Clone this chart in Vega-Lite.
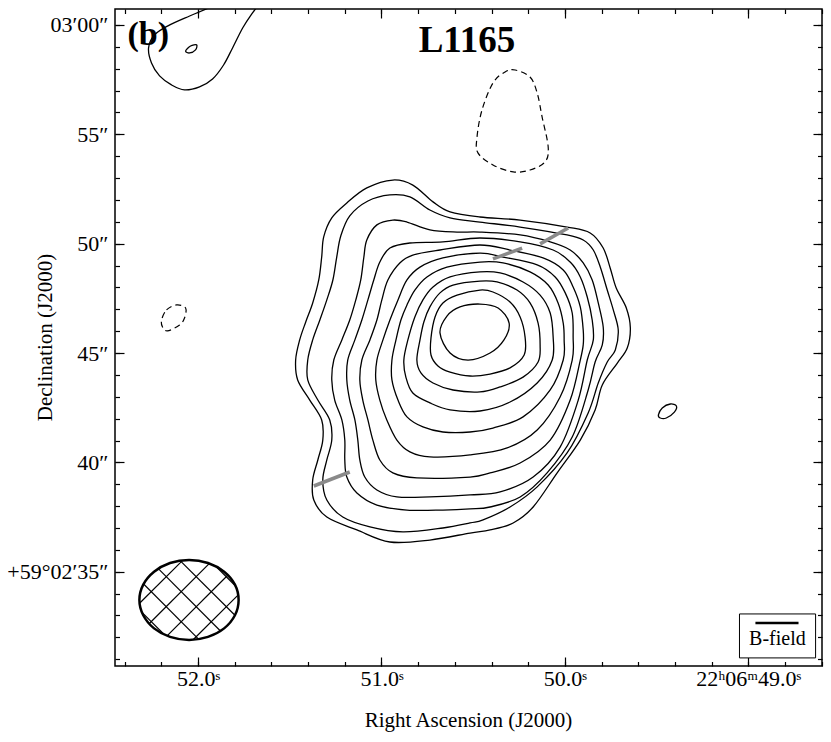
{
"$schema": "https://vega.github.io/schema/vega-lite/v6.json",
"width": 707, "height": 657,
"autosize": "none",
"padding": {"left": 115, "top": 9, "right": 9, "bottom": 76},
"background": "white",
"config": {
 "view": {"stroke": "black", "strokeWidth": 1.5},
 "axis": {"grid": false, "domain": false, "labelFont": "Liberation Serif", "labelFontSize": 22, "labelColor": "black", "titleFont": "Liberation Serif", "titleFontSize": 21, "titleFontWeight": "normal", "titleColor": "black", "tickColor": "black", "tickWidth": 1.2, "labelFlush": false, "labelOverlap": false, "labelBound": false}
},
"datasets": {
 "contours": [
  {"c":"C1","i":0,"ra":50.938,"dec":52.91},{"c":"C1","i":1,"ra":50.829,"dec":52.68},{"c":"C1","i":2,"ra":50.719,"dec":51.91},{"c":"C1","i":3,"ra":50.626,"dec":51.45},{"c":"C1","i":4,"ra":50.463,"dec":51.22},{"c":"C1","i":5,"ra":50.244,"dec":51.08},{"c":"C1","i":6,"ra":49.988,"dec":50.76},{"c":"C1","i":7,"ra":49.862,"dec":50.49},{"c":"C1","i":8,"ra":49.791,"dec":49.80},{"c":"C1","i":9,"ra":49.753,"dec":48.89},{"c":"C1","i":10,"ra":49.720,"dec":47.97},{"c":"C1","i":11,"ra":49.665,"dec":47.06},{"c":"C1","i":12,"ra":49.643,"dec":46.15},{"c":"C1","i":13,"ra":49.660,"dec":45.23},{"c":"C1","i":14,"ra":49.714,"dec":44.54},{"c":"C1","i":15,"ra":49.796,"dec":43.54},{"c":"C1","i":16,"ra":49.835,"dec":42.40},{"c":"C1","i":17,"ra":49.916,"dec":41.02},{"c":"C1","i":18,"ra":50.042,"dec":39.52},{"c":"C1","i":19,"ra":50.173,"dec":37.96},{"c":"C1","i":20,"ra":50.282,"dec":37.23},{"c":"C1","i":21,"ra":50.408,"dec":36.91},{"c":"C1","i":22,"ra":50.517,"dec":36.77},{"c":"C1","i":23,"ra":50.736,"dec":36.45},{"c":"C1","i":24,"ra":50.954,"dec":36.36},{"c":"C1","i":25,"ra":51.134,"dec":36.91},{"c":"C1","i":26,"ra":51.298,"dec":37.50},{"c":"C1","i":27,"ra":51.369,"dec":38.28},{"c":"C1","i":28,"ra":51.375,"dec":39.20},{"c":"C1","i":29,"ra":51.347,"dec":40.11},{"c":"C1","i":30,"ra":51.320,"dec":41.02},{"c":"C1","i":31,"ra":51.326,"dec":41.94},{"c":"C1","i":32,"ra":51.391,"dec":42.85},{"c":"C1","i":33,"ra":51.457,"dec":43.77},{"c":"C1","i":34,"ra":51.468,"dec":44.68},{"c":"C1","i":35,"ra":51.446,"dec":45.60},{"c":"C1","i":36,"ra":51.413,"dec":46.42},{"c":"C1","i":37,"ra":51.375,"dec":47.29},{"c":"C1","i":38,"ra":51.342,"dec":48.34},{"c":"C1","i":39,"ra":51.326,"dec":49.39},{"c":"C1","i":40,"ra":51.315,"dec":50.31},{"c":"C1","i":41,"ra":51.271,"dec":51.18},{"c":"C1","i":42,"ra":51.189,"dec":51.86},{"c":"C1","i":43,"ra":51.080,"dec":52.55},
  {"c":"C2","i":0,"ra":50.954,"dec":52.23},{"c":"C2","i":1,"ra":50.845,"dec":52.14},{"c":"C2","i":2,"ra":50.736,"dec":51.54},{"c":"C2","i":3,"ra":50.626,"dec":51.18},{"c":"C2","i":4,"ra":50.463,"dec":50.99},{"c":"C2","i":5,"ra":50.244,"dec":50.76},{"c":"C2","i":6,"ra":49.988,"dec":50.40},{"c":"C2","i":7,"ra":49.900,"dec":50.17},{"c":"C2","i":8,"ra":49.845,"dec":49.71},{"c":"C2","i":9,"ra":49.807,"dec":48.93},{"c":"C2","i":10,"ra":49.769,"dec":47.88},{"c":"C2","i":11,"ra":49.736,"dec":46.97},{"c":"C2","i":12,"ra":49.709,"dec":46.05},{"c":"C2","i":13,"ra":49.725,"dec":45.14},{"c":"C2","i":14,"ra":49.769,"dec":44.59},{"c":"C2","i":15,"ra":49.818,"dec":43.63},{"c":"C2","i":16,"ra":49.873,"dec":42.26},{"c":"C2","i":17,"ra":49.988,"dec":40.43},{"c":"C2","i":18,"ra":50.151,"dec":38.88},{"c":"C2","i":19,"ra":50.299,"dec":37.96},{"c":"C2","i":20,"ra":50.446,"dec":37.37},{"c":"C2","i":21,"ra":50.517,"dec":37.23},{"c":"C2","i":22,"ra":50.665,"dec":37.00},{"c":"C2","i":23,"ra":50.883,"dec":36.82},{"c":"C2","i":24,"ra":51.063,"dec":37.05},{"c":"C2","i":25,"ra":51.211,"dec":37.50},{"c":"C2","i":26,"ra":51.298,"dec":38.28},{"c":"C2","i":27,"ra":51.320,"dec":39.20},{"c":"C2","i":28,"ra":51.298,"dec":40.11},{"c":"C2","i":29,"ra":51.271,"dec":41.02},{"c":"C2","i":30,"ra":51.282,"dec":41.94},{"c":"C2","i":31,"ra":51.347,"dec":42.85},{"c":"C2","i":32,"ra":51.402,"dec":43.77},{"c":"C2","i":33,"ra":51.402,"dec":44.68},{"c":"C2","i":34,"ra":51.375,"dec":45.60},{"c":"C2","i":35,"ra":51.336,"dec":46.51},{"c":"C2","i":36,"ra":51.298,"dec":47.43},{"c":"C2","i":37,"ra":51.265,"dec":48.34},{"c":"C2","i":38,"ra":51.244,"dec":49.39},{"c":"C2","i":39,"ra":51.222,"dec":50.35},{"c":"C2","i":40,"ra":51.173,"dec":51.27},{"c":"C2","i":41,"ra":51.074,"dec":51.95},
  {"c":"C3","i":0,"ra":50.938,"dec":51.08},{"c":"C3","i":1,"ra":50.861,"dec":50.99},{"c":"C3","i":2,"ra":50.736,"dec":50.63},{"c":"C3","i":3,"ra":50.588,"dec":50.53},{"c":"C3","i":4,"ra":50.463,"dec":50.53},{"c":"C3","i":5,"ra":50.244,"dec":50.40},{"c":"C3","i":6,"ra":50.080,"dec":50.08},{"c":"C3","i":7,"ra":49.971,"dec":49.71},{"c":"C3","i":8,"ra":49.900,"dec":49.12},{"c":"C3","i":9,"ra":49.851,"dec":48.34},{"c":"C3","i":10,"ra":49.818,"dec":47.29},{"c":"C3","i":11,"ra":49.791,"dec":46.19},{"c":"C3","i":12,"ra":49.796,"dec":45.37},{"c":"C3","i":13,"ra":49.835,"dec":44.59},{"c":"C3","i":14,"ra":49.873,"dec":43.31},{"c":"C3","i":15,"ra":49.960,"dec":41.16},{"c":"C3","i":16,"ra":50.097,"dec":39.52},{"c":"C3","i":17,"ra":50.244,"dec":38.42},{"c":"C3","i":18,"ra":50.408,"dec":37.96},{"c":"C3","i":19,"ra":50.517,"dec":37.87},{"c":"C3","i":20,"ra":50.665,"dec":37.82},{"c":"C3","i":21,"ra":50.861,"dec":37.82},{"c":"C3","i":22,"ra":51.025,"dec":38.05},{"c":"C3","i":23,"ra":51.134,"dec":38.60},{"c":"C3","i":24,"ra":51.189,"dec":39.33},{"c":"C3","i":25,"ra":51.200,"dec":40.11},{"c":"C3","i":26,"ra":51.200,"dec":41.02},{"c":"C3","i":27,"ra":51.216,"dec":41.94},{"c":"C3","i":28,"ra":51.255,"dec":42.85},{"c":"C3","i":29,"ra":51.271,"dec":43.77},{"c":"C3","i":30,"ra":51.260,"dec":44.68},{"c":"C3","i":31,"ra":51.216,"dec":45.60},{"c":"C3","i":32,"ra":51.173,"dec":46.51},{"c":"C3","i":33,"ra":51.140,"dec":47.43},{"c":"C3","i":34,"ra":51.113,"dec":48.34},{"c":"C3","i":35,"ra":51.096,"dec":49.39},{"c":"C3","i":36,"ra":51.080,"dec":50.17},{"c":"C3","i":37,"ra":51.025,"dec":50.86},
  {"c":"C4","i":0,"ra":50.954,"dec":49.80},{"c":"C4","i":1,"ra":50.845,"dec":50.03},{"c":"C4","i":2,"ra":50.665,"dec":50.08},{"c":"C4","i":3,"ra":50.463,"dec":50.26},{"c":"C4","i":4,"ra":50.244,"dec":50.08},{"c":"C4","i":5,"ra":50.064,"dec":49.71},{"c":"C4","i":6,"ra":49.971,"dec":49.16},{"c":"C4","i":7,"ra":49.916,"dec":48.48},{"c":"C4","i":8,"ra":49.878,"dec":47.56},{"c":"C4","i":9,"ra":49.851,"dec":46.51},{"c":"C4","i":10,"ra":49.845,"dec":45.60},{"c":"C4","i":11,"ra":49.878,"dec":44.68},{"c":"C4","i":12,"ra":49.927,"dec":42.85},{"c":"C4","i":13,"ra":50.026,"dec":40.70},{"c":"C4","i":14,"ra":50.173,"dec":39.33},{"c":"C4","i":15,"ra":50.353,"dec":38.65},{"c":"C4","i":16,"ra":50.517,"dec":38.51},{"c":"C4","i":17,"ra":50.736,"dec":38.42},{"c":"C4","i":18,"ra":50.916,"dec":38.42},{"c":"C4","i":19,"ra":51.025,"dec":38.74},{"c":"C4","i":20,"ra":51.091,"dec":39.33},{"c":"C4","i":21,"ra":51.118,"dec":40.11},{"c":"C4","i":22,"ra":51.129,"dec":41.02},{"c":"C4","i":23,"ra":51.145,"dec":41.94},{"c":"C4","i":24,"ra":51.173,"dec":42.85},{"c":"C4","i":25,"ra":51.189,"dec":43.77},{"c":"C4","i":26,"ra":51.184,"dec":44.68},{"c":"C4","i":27,"ra":51.145,"dec":45.60},{"c":"C4","i":28,"ra":51.107,"dec":46.51},{"c":"C4","i":29,"ra":51.074,"dec":47.43},{"c":"C4","i":30,"ra":51.042,"dec":48.34},{"c":"C4","i":31,"ra":51.009,"dec":49.16},
  {"c":"C5","i":0,"ra":50.900,"dec":49.12},{"c":"C5","i":1,"ra":50.829,"dec":49.48},{"c":"C5","i":2,"ra":50.681,"dec":49.71},{"c":"C5","i":3,"ra":50.463,"dec":49.94},{"c":"C5","i":4,"ra":50.299,"dec":49.71},{"c":"C5","i":5,"ra":50.119,"dec":49.35},{"c":"C5","i":6,"ra":50.009,"dec":48.80},{"c":"C5","i":7,"ra":49.955,"dec":48.02},{"c":"C5","i":8,"ra":49.916,"dec":47.11},{"c":"C5","i":9,"ra":49.900,"dec":46.05},{"c":"C5","i":10,"ra":49.900,"dec":45.37},{"c":"C5","i":11,"ra":49.916,"dec":44.68},{"c":"C5","i":12,"ra":49.971,"dec":42.85},{"c":"C5","i":13,"ra":50.080,"dec":41.02},{"c":"C5","i":14,"ra":50.244,"dec":39.97},{"c":"C5","i":15,"ra":50.408,"dec":39.52},{"c":"C5","i":16,"ra":50.517,"dec":39.33},{"c":"C5","i":17,"ra":50.807,"dec":39.29},{"c":"C5","i":18,"ra":50.938,"dec":39.52},{"c":"C5","i":19,"ra":51.009,"dec":40.11},{"c":"C5","i":20,"ra":51.047,"dec":41.02},{"c":"C5","i":21,"ra":51.074,"dec":41.94},{"c":"C5","i":22,"ra":51.102,"dec":42.85},{"c":"C5","i":23,"ra":51.118,"dec":43.77},{"c":"C5","i":24,"ra":51.107,"dec":44.68},{"c":"C5","i":25,"ra":51.063,"dec":45.60},{"c":"C5","i":26,"ra":51.025,"dec":46.51},{"c":"C5","i":27,"ra":50.998,"dec":47.43},{"c":"C5","i":28,"ra":50.965,"dec":48.34},
  {"c":"C6","i":0,"ra":50.861,"dec":48.34},{"c":"C6","i":1,"ra":50.790,"dec":48.93},{"c":"C6","i":2,"ra":50.665,"dec":49.35},{"c":"C6","i":3,"ra":50.463,"dec":49.57},{"c":"C6","i":4,"ra":50.337,"dec":49.39},{"c":"C6","i":5,"ra":50.151,"dec":49.03},{"c":"C6","i":6,"ra":50.053,"dec":48.48},{"c":"C6","i":7,"ra":49.998,"dec":47.75},{"c":"C6","i":8,"ra":49.960,"dec":46.83},{"c":"C6","i":9,"ra":49.955,"dec":45.73},{"c":"C6","i":10,"ra":49.960,"dec":44.68},{"c":"C6","i":11,"ra":50.026,"dec":42.99},{"c":"C6","i":12,"ra":50.151,"dec":41.48},{"c":"C6","i":13,"ra":50.315,"dec":40.66},{"c":"C6","i":14,"ra":50.517,"dec":40.34},{"c":"C6","i":15,"ra":50.736,"dec":40.25},{"c":"C6","i":16,"ra":50.845,"dec":40.48},{"c":"C6","i":17,"ra":50.916,"dec":41.02},{"c":"C6","i":18,"ra":50.971,"dec":41.94},{"c":"C6","i":19,"ra":51.009,"dec":42.85},{"c":"C6","i":20,"ra":51.031,"dec":43.77},{"c":"C6","i":21,"ra":51.025,"dec":44.68},{"c":"C6","i":22,"ra":50.992,"dec":45.60},{"c":"C6","i":23,"ra":50.954,"dec":46.51},{"c":"C6","i":24,"ra":50.910,"dec":47.43},
  {"c":"C7","i":0,"ra":50.818,"dec":47.88},{"c":"C7","i":1,"ra":50.752,"dec":48.48},{"c":"C7","i":2,"ra":50.643,"dec":48.93},{"c":"C7","i":3,"ra":50.463,"dec":49.16},{"c":"C7","i":4,"ra":50.337,"dec":49.12},{"c":"C7","i":5,"ra":50.190,"dec":48.71},{"c":"C7","i":6,"ra":50.091,"dec":48.11},{"c":"C7","i":7,"ra":50.037,"dec":47.29},{"c":"C7","i":8,"ra":50.009,"dec":46.37},{"c":"C7","i":9,"ra":50.004,"dec":45.60},{"c":"C7","i":10,"ra":50.009,"dec":44.68},{"c":"C7","i":11,"ra":50.080,"dec":43.31},{"c":"C7","i":12,"ra":50.228,"dec":42.08},{"c":"C7","i":13,"ra":50.392,"dec":41.57},{"c":"C7","i":14,"ra":50.517,"dec":41.39},{"c":"C7","i":15,"ra":50.665,"dec":41.39},{"c":"C7","i":16,"ra":50.774,"dec":41.62},{"c":"C7","i":17,"ra":50.861,"dec":42.08},{"c":"C7","i":18,"ra":50.910,"dec":42.85},{"c":"C7","i":19,"ra":50.943,"dec":43.77},{"c":"C7","i":20,"ra":50.943,"dec":44.68},{"c":"C7","i":21,"ra":50.921,"dec":45.60},{"c":"C7","i":22,"ra":50.894,"dec":46.51},{"c":"C7","i":23,"ra":50.861,"dec":47.20},
  {"c":"C8","i":0,"ra":50.774,"dec":47.43},{"c":"C8","i":1,"ra":50.719,"dec":48.02},{"c":"C8","i":2,"ra":50.626,"dec":48.48},{"c":"C8","i":3,"ra":50.463,"dec":48.71},{"c":"C8","i":4,"ra":50.353,"dec":48.66},{"c":"C8","i":5,"ra":50.228,"dec":48.25},{"c":"C8","i":6,"ra":50.135,"dec":47.65},{"c":"C8","i":7,"ra":50.080,"dec":46.83},{"c":"C8","i":8,"ra":50.064,"dec":45.73},{"c":"C8","i":9,"ra":50.069,"dec":44.68},{"c":"C8","i":10,"ra":50.151,"dec":43.63},{"c":"C8","i":11,"ra":50.299,"dec":42.76},{"c":"C8","i":12,"ra":50.463,"dec":42.35},{"c":"C8","i":13,"ra":50.626,"dec":42.40},{"c":"C8","i":14,"ra":50.736,"dec":42.72},{"c":"C8","i":15,"ra":50.829,"dec":43.17},{"c":"C8","i":16,"ra":50.867,"dec":43.90},{"c":"C8","i":17,"ra":50.878,"dec":44.68},{"c":"C8","i":18,"ra":50.856,"dec":45.60},{"c":"C8","i":19,"ra":50.818,"dec":46.65},
  {"c":"C9","i":0,"ra":50.736,"dec":47.11},{"c":"C9","i":1,"ra":50.681,"dec":47.75},{"c":"C9","i":2,"ra":50.610,"dec":48.11},{"c":"C9","i":3,"ra":50.463,"dec":48.29},{"c":"C9","i":4,"ra":50.370,"dec":48.25},{"c":"C9","i":5,"ra":50.261,"dec":47.88},{"c":"C9","i":6,"ra":50.190,"dec":47.29},{"c":"C9","i":7,"ra":50.146,"dec":46.37},{"c":"C9","i":8,"ra":50.135,"dec":45.37},{"c":"C9","i":9,"ra":50.146,"dec":44.59},{"c":"C9","i":10,"ra":50.228,"dec":43.90},{"c":"C9","i":11,"ra":50.353,"dec":43.45},{"c":"C9","i":12,"ra":50.463,"dec":43.22},{"c":"C9","i":13,"ra":50.610,"dec":43.31},{"c":"C9","i":14,"ra":50.719,"dec":43.63},{"c":"C9","i":15,"ra":50.785,"dec":44.09},{"c":"C9","i":16,"ra":50.807,"dec":44.68},{"c":"C9","i":17,"ra":50.790,"dec":45.60},{"c":"C9","i":18,"ra":50.769,"dec":46.42},
  {"c":"C10","i":0,"ra":50.708,"dec":46.65},{"c":"C10","i":1,"ra":50.665,"dec":47.29},{"c":"C10","i":2,"ra":50.588,"dec":47.65},{"c":"C10","i":3,"ra":50.463,"dec":47.88},{"c":"C10","i":4,"ra":50.392,"dec":47.79},{"c":"C10","i":5,"ra":50.299,"dec":47.33},{"c":"C10","i":6,"ra":50.244,"dec":46.65},{"c":"C10","i":7,"ra":50.217,"dec":45.73},{"c":"C10","i":8,"ra":50.222,"dec":44.91},{"c":"C10","i":9,"ra":50.299,"dec":44.32},{"c":"C10","i":10,"ra":50.408,"dec":44.04},{"c":"C10","i":11,"ra":50.517,"dec":43.95},{"c":"C10","i":12,"ra":50.626,"dec":44.13},{"c":"C10","i":13,"ra":50.692,"dec":44.41},{"c":"C10","i":14,"ra":50.730,"dec":44.91},{"c":"C10","i":15,"ra":50.730,"dec":45.69},
  {"c":"C11","i":0,"ra":50.681,"dec":45.92},{"c":"C11","i":1,"ra":50.643,"dec":46.69},{"c":"C11","i":2,"ra":50.572,"dec":47.11},{"c":"C11","i":3,"ra":50.463,"dec":47.24},{"c":"C11","i":4,"ra":50.364,"dec":47.06},{"c":"C11","i":5,"ra":50.304,"dec":46.37},{"c":"C11","i":6,"ra":50.332,"dec":45.60},{"c":"C11","i":7,"ra":50.408,"dec":45.00},{"c":"C11","i":8,"ra":50.528,"dec":44.68},{"c":"C11","i":9,"ra":50.626,"dec":45.00},
  {"c":"D1","i":0,"ra":52.068,"dec":58.81},{"c":"D1","i":1,"ra":52.041,"dec":59.04},{"c":"D1","i":2,"ra":52.008,"dec":59.09},{"c":"D1","i":3,"ra":52.014,"dec":58.86},{"c":"D1","i":4,"ra":52.046,"dec":58.72},
  {"c":"R1","i":0,"ra":49.490,"dec":42.17},{"c":"R1","i":1,"ra":49.469,"dec":42.49},{"c":"R1","i":2,"ra":49.425,"dec":42.67},{"c":"R1","i":3,"ra":49.392,"dec":42.58},{"c":"R1","i":4,"ra":49.403,"dec":42.30},{"c":"R1","i":5,"ra":49.447,"dec":42.03},{"c":"R1","i":6,"ra":49.480,"dec":42.03}
 ],
 "dashed": [
  {"c":"N1","i":0,"ra":50.271,"dec":57.94},{"c":"N1","i":1,"ra":50.190,"dec":57.62},{"c":"N1","i":2,"ra":50.151,"dec":56.89},{"c":"N1","i":3,"ra":50.124,"dec":55.79},{"c":"N1","i":4,"ra":50.091,"dec":54.42},{"c":"N1","i":5,"ra":50.108,"dec":53.74},{"c":"N1","i":6,"ra":50.190,"dec":53.37},{"c":"N1","i":7,"ra":50.282,"dec":53.28},{"c":"N1","i":8,"ra":50.392,"dec":53.60},{"c":"N1","i":9,"ra":50.474,"dec":54.15},{"c":"N1","i":10,"ra":50.479,"dec":54.88},{"c":"N1","i":11,"ra":50.452,"dec":56.11},{"c":"N1","i":12,"ra":50.392,"dec":57.35},{"c":"N1","i":13,"ra":50.326,"dec":57.85},
  {"c":"N2","i":0,"ra":52.199,"dec":46.51},{"c":"N2","i":1,"ra":52.172,"dec":46.97},{"c":"N2","i":2,"ra":52.117,"dec":47.20},{"c":"N2","i":3,"ra":52.068,"dec":47.06},{"c":"N2","i":4,"ra":52.074,"dec":46.60},{"c":"N2","i":5,"ra":52.101,"dec":46.28},{"c":"N2","i":6,"ra":52.167,"dec":46.01},{"c":"N2","i":7,"ra":52.194,"dec":46.19}
 ],
 "edge": [
  {"i":0,"ra":51.904,"dec":60.91},{"i":1,"ra":52.046,"dec":60.41},{"i":2,"ra":52.167,"dec":59.95},{"i":3,"ra":52.238,"dec":59.54},{"i":4,"ra":52.270,"dec":58.95},{"i":5,"ra":52.254,"dec":58.26},{"i":6,"ra":52.210,"dec":57.67},{"i":7,"ra":52.145,"dec":57.26},{"i":8,"ra":52.074,"dec":57.03},{"i":9,"ra":51.992,"dec":57.17},{"i":10,"ra":51.921,"dec":57.53},{"i":11,"ra":51.861,"dec":58.17},{"i":12,"ra":51.812,"dec":58.95},{"i":13,"ra":51.757,"dec":59.86},{"i":14,"ra":51.708,"dec":60.50},{"i":15,"ra":51.664,"dec":60.96}
 ],
 "segs": [
  {"ra":51.369,"dec":38.92,"ra2":51.173,"dec2":39.56},
  {"ra":50.392,"dec":49.30,"ra2":50.233,"dec2":49.80},
  {"ra":50.135,"dec":49.99,"ra2":49.982,"dec2":50.72}
 ],
 "beam": [
  {"i":0,"ra":51.779,"dec":33.71},{"i":1,"ra":51.799,"dec":34.41},{"i":2,"ra":51.858,"dec":35.00},{"i":3,"ra":51.946,"dec":35.40},{"i":4,"ra":52.049,"dec":35.54},{"i":5,"ra":52.153,"dec":35.40},{"i":6,"ra":52.240,"dec":35.00},{"i":7,"ra":52.299,"dec":34.41},{"i":8,"ra":52.320,"dec":33.71},{"i":9,"ra":52.299,"dec":33.01},{"i":10,"ra":52.240,"dec":32.41},{"i":11,"ra":52.153,"dec":32.02},{"i":12,"ra":52.049,"dec":31.88},{"i":13,"ra":51.946,"dec":32.02},{"i":14,"ra":51.858,"dec":32.41},{"i":15,"ra":51.799,"dec":33.01}
 ],
 "hatch": [
  {"ra":52.084,"dec":35.52,"ra2":52.319,"dec2":33.56},
  {"ra":51.938,"dec":35.38,"ra2":52.267,"dec2":32.62},
  {"ra":51.837,"dec":34.85,"ra2":52.169,"dec2":32.07},
  {"ra":51.781,"dec":33.94,"ra2":52.027,"dec2":31.89},
  {"ra":52.185,"dec":32.13,"ra2":52.306,"dec2":33.14},
  {"ra":51.996,"dec":31.91,"ra2":52.297,"dec2":34.44},
  {"ra":51.878,"dec":32.29,"ra2":52.217,"dec2":35.14},
  {"ra":51.799,"dec":33.01,"ra2":52.098,"dec2":35.51},
  {"ra":51.797,"dec":34.36,"ra2":51.902,"dec2":35.24}
 ]
},
"resolve": {"axis": {"x": "independent", "y": "independent"}},
"layer": [
 {
  "data": {"name": "contours"},
  "mark": {"type": "line", "interpolate": "cardinal-closed", "color": "black", "strokeWidth": 1.3},
  "encoding": {
   "x": {"field": "ra", "type": "quantitative", "scale": {"domain": [48.598, 52.453], "reverse": true, "nice": false, "zero": false},
    "axis": {"orient": "bottom", "values": [52, 51, 50, 49], "tickSize": -9, "labelPadding": 11, "labelExpr": "datum.value == 49 ? '22ʰ06ᵐ49.0ˢ' : format(datum.value, '.1f') + 'ˢ'", "title": "Right Ascension (J2000)", "titleX": 353, "titleY": 54, "titleBaseline": "middle"}},
   "y": {"field": "dec", "type": "quantitative", "scale": {"domain": [30.69, 60.73], "nice": false, "zero": false},
    "axis": {"orient": "left", "values": [35, 40, 45, 50, 55, 60], "tickSize": -9, "labelPadding": 16, "labelExpr": "datum.value == 60 ? '03′00″' : datum.value == 35 ? '+59°02′35″' : datum.value + '″'", "title": "Declination (J2000)", "titleX": -70, "titleY": 328, "titleBaseline": "middle", "titleAngle": 270}},
   "detail": {"field": "c", "type": "nominal"},
   "order": {"field": "i", "type": "quantitative"}
  }
 },
 {
  "data": {"name": "dashed"},
  "mark": {"type": "line", "interpolate": "cardinal-closed", "color": "black", "strokeWidth": 1.2, "strokeDash": [6, 4]},
  "encoding": {
   "x": {"field": "ra", "type": "quantitative", "scale": {"domain": [48.598, 52.453], "reverse": true, "nice": false, "zero": false},
    "axis": {"orient": "bottom", "values": [52.4, 52.2, 52.0, 51.8, 51.6, 51.4, 51.2, 51.0, 50.8, 50.6, 50.4, 50.2, 50.0, 49.8, 49.6, 49.4, 49.2, 49.0, 48.8, 48.6], "tickSize": -4.5, "labels": false, "title": null}},
   "y": {"field": "dec", "type": "quantitative", "scale": {"domain": [30.69, 60.73], "nice": false, "zero": false},
    "axis": {"orient": "left", "values": [31,32,33,34,35,36,37,38,39,40,41,42,43,44,45,46,47,48,49,50,51,52,53,54,55,56,57,58,59,60], "tickSize": -4.5, "labels": false, "title": null}},
   "detail": {"field": "c", "type": "nominal"},
   "order": {"field": "i", "type": "quantitative"}
  }
 },
 {
  "data": {"name": "edge"},
  "mark": {"type": "line", "interpolate": "cardinal", "color": "black", "strokeWidth": 1.3, "clip": true},
  "encoding": {
   "x": {"field": "ra", "type": "quantitative", "scale": {"domain": [48.598, 52.453], "reverse": true, "nice": false, "zero": false},
    "axis": {"orient": "top", "values": [52, 51, 50, 49], "tickSize": -9, "labels": false, "title": null}},
   "y": {"field": "dec", "type": "quantitative", "scale": {"domain": [30.69, 60.73], "nice": false, "zero": false},
    "axis": {"orient": "right", "values": [35, 40, 45, 50, 55, 60], "tickSize": -9, "labels": false, "title": null}},
   "order": {"field": "i", "type": "quantitative"}
  }
 },
 {
  "data": {"name": "segs"},
  "mark": {"type": "rule", "color": "#8a8a8a", "strokeWidth": 3.5},
  "encoding": {
   "x": {"field": "ra", "type": "quantitative", "scale": {"domain": [48.598, 52.453], "reverse": true, "nice": false, "zero": false},
    "axis": {"orient": "top", "values": [52.4, 52.2, 52.0, 51.8, 51.6, 51.4, 51.2, 51.0, 50.8, 50.6, 50.4, 50.2, 50.0, 49.8, 49.6, 49.4, 49.2, 49.0, 48.8, 48.6], "tickSize": -4.5, "labels": false, "title": null}},
   "y": {"field": "dec", "type": "quantitative", "scale": {"domain": [30.69, 60.73], "nice": false, "zero": false},
    "axis": {"orient": "right", "values": [31,32,33,34,35,36,37,38,39,40,41,42,43,44,45,46,47,48,49,50,51,52,53,54,55,56,57,58,59,60], "tickSize": -4.5, "labels": false, "title": null}},
   "x2": {"field": "ra2"},
   "y2": {"field": "dec2"}
  }
 },
 {
  "data": {"name": "hatch"},
  "mark": {"type": "rule", "color": "black", "strokeWidth": 1.2},
  "encoding": {
   "x": {"field": "ra", "type": "quantitative", "scale": {"domain": [48.598, 52.453], "reverse": true, "nice": false, "zero": false}, "axis": null},
   "y": {"field": "dec", "type": "quantitative", "scale": {"domain": [30.69, 60.73], "nice": false, "zero": false}, "axis": null},
   "x2": {"field": "ra2"},
   "y2": {"field": "dec2"}
  }
 },
 {
  "data": {"name": "beam"},
  "mark": {"type": "line", "interpolate": "cardinal-closed", "color": "black", "strokeWidth": 2.5},
  "encoding": {
   "x": {"field": "ra", "type": "quantitative", "scale": {"domain": [48.598, 52.453], "reverse": true, "nice": false, "zero": false}, "axis": null},
   "y": {"field": "dec", "type": "quantitative", "scale": {"domain": [30.69, 60.73], "nice": false, "zero": false}, "axis": null},
   "order": {"field": "i", "type": "quantitative"}
  }
 },
 {
  "data": {"values": [{"ra": 49.048, "ra2": 48.633, "dec": 33.07, "dec2": 31.06}]},
  "mark": {"type": "rect", "fill": "white", "stroke": "black", "strokeWidth": 1},
  "encoding": {
   "x": {"field": "ra", "type": "quantitative", "scale": {"domain": [48.598, 52.453], "reverse": true, "nice": false, "zero": false}, "axis": null},
   "y": {"field": "dec", "type": "quantitative", "scale": {"domain": [30.69, 60.73], "nice": false, "zero": false}, "axis": null},
   "x2": {"field": "ra2"},
   "y2": {"field": "dec2"}
  }
 },
 {
  "data": {"values": [{"ra": 48.961, "ra2": 48.726, "dec": 32.66}]},
  "mark": {"type": "rule", "color": "black", "strokeWidth": 2.5},
  "encoding": {
   "x": {"field": "ra", "type": "quantitative", "scale": {"domain": [48.598, 52.453], "reverse": true, "nice": false, "zero": false}, "axis": null},
   "y": {"field": "dec", "type": "quantitative", "scale": {"domain": [30.69, 60.73], "nice": false, "zero": false}, "axis": null},
   "x2": {"field": "ra2"}
  }
 },
 {
  "data": {"values": [{"ra": 48.841, "dec": 31.65, "t": "B-field"}]},
  "mark": {"type": "text", "font": "Liberation Serif", "fontSize": 20, "color": "black", "align": "center", "baseline": "alphabetic"},
  "encoding": {
   "x": {"field": "ra", "type": "quantitative", "scale": {"domain": [48.598, 52.453], "reverse": true, "nice": false, "zero": false}, "axis": null},
   "y": {"field": "dec", "type": "quantitative", "scale": {"domain": [30.69, 60.73], "nice": false, "zero": false}, "axis": null},
   "text": {"field": "t"}
  }
 },
 {
  "data": {"values": [{"ra": 52.385, "dec": 59.09, "t": "(b)"}]},
  "mark": {"type": "text", "font": "Liberation Serif", "fontSize": 34, "fontWeight": "bold", "color": "black", "align": "left", "baseline": "alphabetic"},
  "encoding": {
   "x": {"field": "ra", "type": "quantitative", "scale": {"domain": [48.598, 52.453], "reverse": true, "nice": false, "zero": false}, "axis": null},
   "y": {"field": "dec", "type": "quantitative", "scale": {"domain": [30.69, 60.73], "nice": false, "zero": false}, "axis": null},
   "text": {"field": "t"}
  }
 },
 {
  "data": {"values": [{"ra": 50.534, "dec": 58.77, "t": "L1165"}]},
  "mark": {"type": "text", "font": "Liberation Serif", "fontSize": 37, "fontWeight": "bold", "color": "black", "align": "center", "baseline": "alphabetic"},
  "encoding": {
   "x": {"field": "ra", "type": "quantitative", "scale": {"domain": [48.598, 52.453], "reverse": true, "nice": false, "zero": false}, "axis": null},
   "y": {"field": "dec", "type": "quantitative", "scale": {"domain": [30.69, 60.73], "nice": false, "zero": false}, "axis": null},
   "text": {"field": "t"}
  }
 }
]
}
